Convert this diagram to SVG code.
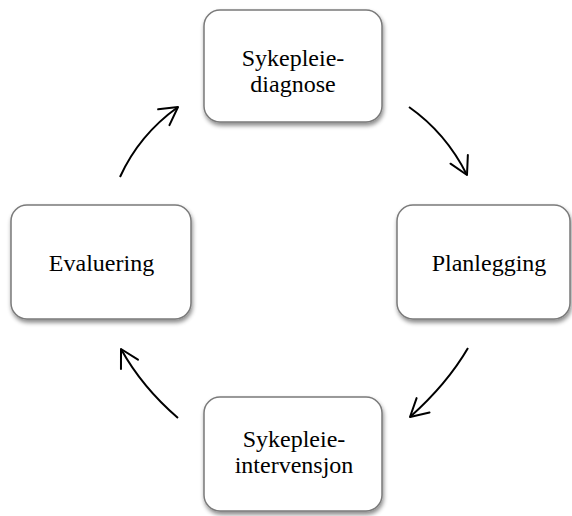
<svg xmlns="http://www.w3.org/2000/svg" width="572" height="516" viewBox="0 0 572 516">
<style>
.box{fill:#fff;stroke:#7a7a7a;stroke-width:1.5;filter:url(#sh)}
.lbl{font-family:"Liberation Serif","Times New Roman",serif;font-size:24px;fill:#000;text-anchor:middle}
.arr{fill:none;stroke:#000;stroke-width:2;marker-end:url(#ah)}
</style>
<defs>
<filter id="sh" x="-10%" y="-10%" width="125%" height="130%">
<feDropShadow dx="1" dy="3" stdDeviation="2" flood-color="#000" flood-opacity="0.45"/>
</filter>
<marker id="ah" markerUnits="userSpaceOnUse" viewBox="-22 -12 24 24" markerWidth="24" markerHeight="24" refX="0" refY="0" orient="auto" overflow="visible">
<path d="M-17.5,-9.7 L0,0 L-17.5,9.7" fill="none" stroke="#000" stroke-width="2" stroke-linecap="round" stroke-linejoin="round"/>
</marker>
</defs>
<g id="n-diagnose">
<rect class="box" x="204" y="10" width="178" height="112" rx="16"/>
<text class="lbl" x="293" y="66">Sykepleie-</text>
<text class="lbl" x="293" y="92">diagnose</text>
</g>
<g id="n-planlegging">
<rect class="box" x="397" y="205" width="173" height="114" rx="16"/>
<text class="lbl" x="489" y="271">Planlegging</text>
</g>
<g id="n-intervensjon">
<rect class="box" x="204" y="397" width="178" height="114" rx="16"/>
<text class="lbl" x="294" y="447">Sykepleie-</text>
<text class="lbl" x="294" y="473">intervensjon</text>
</g>
<g id="n-evaluering">
<rect class="box" x="11" y="205" width="180" height="114" rx="16"/>
<text class="lbl" x="101.5" y="271">Evaluering</text>
</g>
<g id="connectors">
<path class="arr" d="M120,177 Q139,135 178,107"/>
<path class="arr" d="M409,107 Q446,133 467,175"/>
<path class="arr" d="M468,348 Q447,384 410,417"/>
<path class="arr" d="M178,418 Q142,387 121,349"/>
</g>
</svg>
